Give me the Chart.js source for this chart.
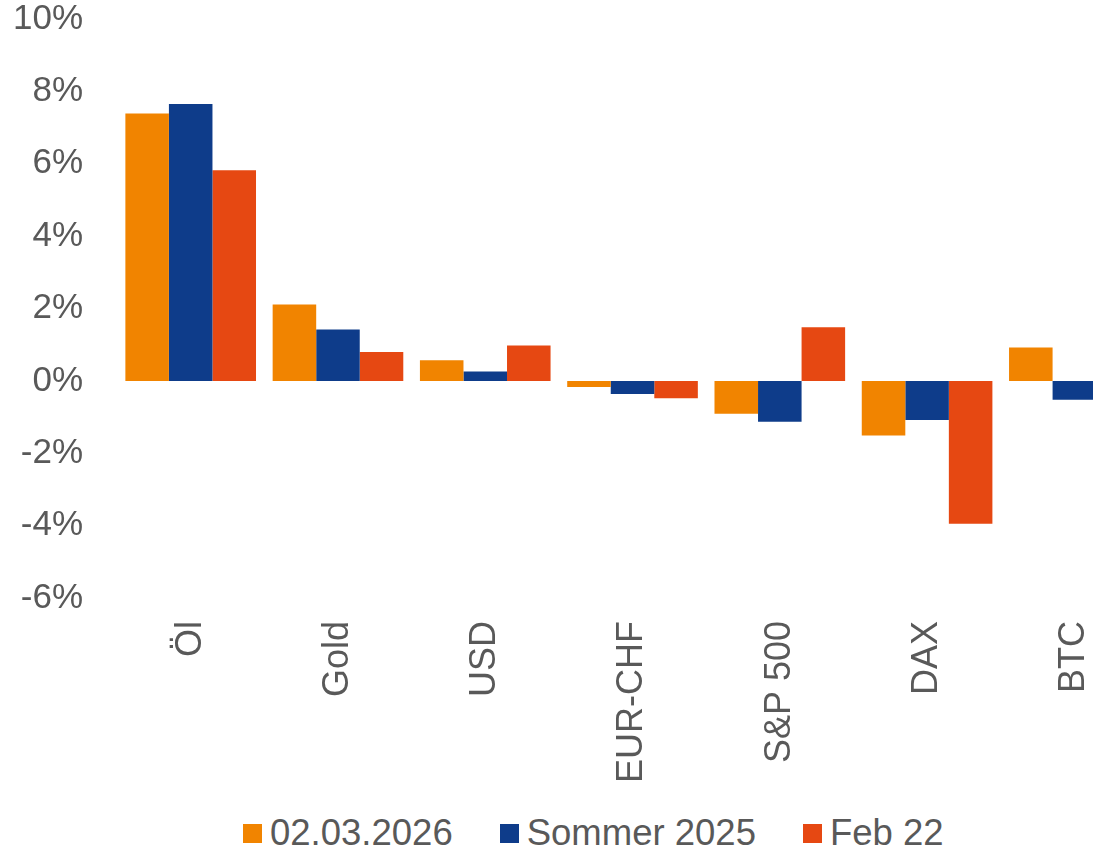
<!DOCTYPE html>
<html>
<head>
    <meta charset="UTF-8">
    <title>Marktreaktionen</title>
    <script src="https://cdn.jsdelivr.net/npm/chart.js"></script>
    <style>
        body {
            margin: 0;
            width: 1093px;
            height: 851px;
            overflow: hidden;
            background: #FFFFFF;
            font-family: "Liberation Sans", Arial, sans-serif;
            position: relative;
        }
        #chartBox {
            position: absolute;
            left: 0;
            top: 0;
            width: 1160px;
            height: 800px;
        }
        #legend {
            position: absolute;
            left: 243px;
            top: 815px;
            display: flex;
            align-items: center;
            font-size: 36.5px;
            line-height: 36px;
            color: #595959;
            white-space: nowrap;
        }
        .legend-item {
            display: flex;
            align-items: center;
            margin-right: 47px;
        }
        .legend-box {
            width: 19px;
            height: 19px;
            margin-right: 8px;
        }
    </style>
</head>
<body>
    <div id="chartBox">
        <canvas id="marketChart" width="1160" height="800"></canvas>
    </div>
    <div id="legend"></div>

    <script>
        const categories = ['Öl', 'Gold', 'USD', 'EUR-CHF', 'S&P 500', 'DAX', 'BTC'];
        const seriesNames = ['02.03.2026', 'Sommer 2025', 'Feb 22'];
        const values2026 = [7.39, 2.11, 0.57, -0.17, -0.91, -1.51, 0.92];
        const valuesSommer2025 = [7.65, 1.42, 0.26, -0.36, -1.13, -1.08, -0.52];
        const valuesFeb22 = [5.82, 0.80, 0.98, -0.48, 1.48, -3.95, null];
        const seriesColors = ['#F18400', '#0E3C8A', '#E64812'];
        const textGray = '#595959';
        const fontFamily = '"Liberation Sans", Arial, sans-serif';

        const allValues = [values2026, valuesSommer2025, valuesFeb22];

        const ctx = document.getElementById('marketChart').getContext('2d');
        new Chart(ctx, {
            type: 'bar',
            data: {
                labels: categories,
                datasets: seriesNames.map((name, i) => ({
                    label: name,
                    data: allValues[i],
                    backgroundColor: seriesColors[i],
                    borderWidth: 0,
                    categoryPercentage: 0.887,
                    barPercentage: 1.0
                }))
            },
            options: {
                responsive: false,
                animation: false,
                layout: {
                    padding: { left: 13, right: 12, top: 19, bottom: 17 }
                },
                plugins: {
                    legend: { display: false },
                    tooltip: { enabled: false }
                },
                scales: {
                    y: {
                        min: -6,
                        max: 10,
                        // tick length used as the gap between labels and bars (grid itself hidden)
                        grid: { display: false, drawTicks: true, tickLength: 34 },
                        border: { display: false },
                        ticks: {
                            stepSize: 2,
                            padding: 0,
                            color: textGray,
                            font: { family: fontFamily, size: 35, lineHeight: 1 },
                            callback: (v) => v + '%'
                        }
                    },
                    x: {
                        grid: { display: false, drawTicks: true, tickLength: 23 },
                        border: { display: false },
                        ticks: {
                            minRotation: 90,
                            maxRotation: 90,
                            autoSkip: false,
                            padding: 0,
                            color: textGray,
                            font: { family: fontFamily, size: 36, lineHeight: 1 }
                        }
                    }
                }
            }
        });

        // legend as html row under the chart
        const legendEl = document.getElementById('legend');
        seriesNames.forEach((name, i) => {
            const item = document.createElement('div');
            item.className = 'legend-item';
            const box = document.createElement('span');
            box.className = 'legend-box';
            box.style.background = seriesColors[i];
            const label = document.createElement('span');
            label.textContent = name;
            item.appendChild(box);
            item.appendChild(label);
            legendEl.appendChild(item);
        });
    </script>
</body>
</html>
